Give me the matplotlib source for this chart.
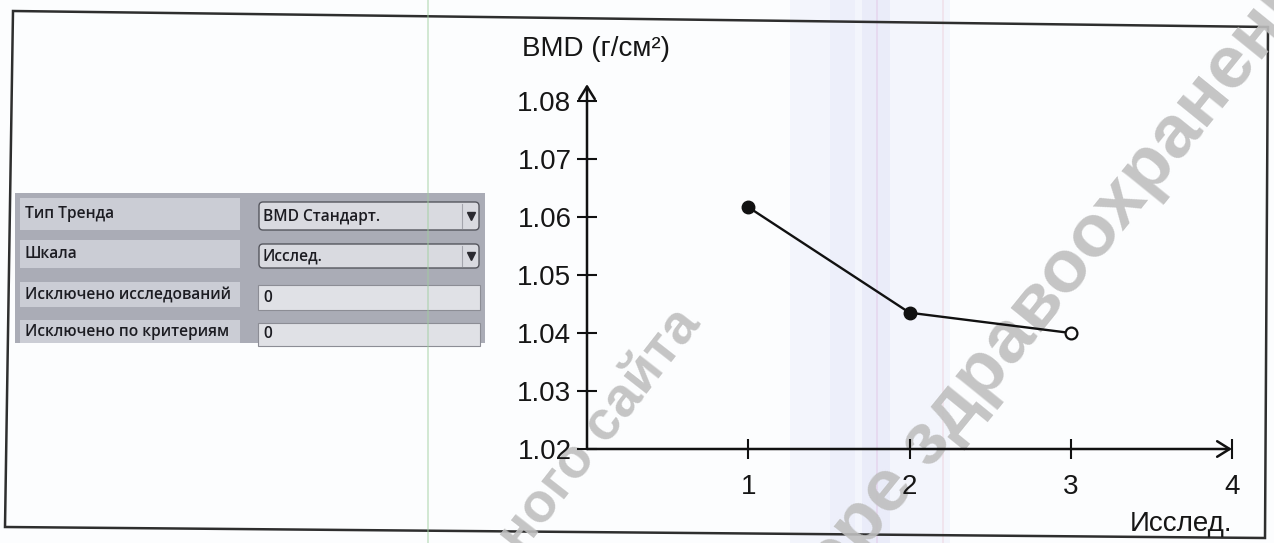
import matplotlib.pyplot as plt
from matplotlib.patches import FancyBboxPatch, Rectangle, Polygon
from matplotlib.ticker import FormatStrFormatter

# BMD trend over studies
studies = [1, 2, 3]
bmd = [1.0617, 1.0435, 1.040]
x_ticks = [1, 2, 3, 4]
y_ticks = [1.02, 1.03, 1.04, 1.05, 1.06, 1.07, 1.08]

# settings panel
panel_labels = ["Тип Тренда", "Шкала", "Исключено исследований", "Исключено по критериям"]
panel_values = ["BMD Стандарт.", "Исслед.", "0", "0"]
panel_dropdown = [True, True, False, False]

W, H = 1274, 543
fig = plt.figure(figsize=(W / 100, H / 100), dpi=100)
fig.patch.set_facecolor("#fcfdfe")

# background layer in pixel units: frame, panel, scan streaks, watermark
bg = fig.add_axes([0, 0, 1, 1], zorder=0)
bg.set_xlim(0, W)
bg.set_ylim(H, 0)
bg.axis("off")

for x0, w, c, a in [(790, 160, "#eef1fb", 0.6), (830, 25, "#e9ecfa", 0.6),
                    (862, 28, "#e4e6f8", 0.6), (876, 2, "#e6d6ee", 0.8),
                    (942, 2, "#f0dde8", 0.7)]:
    bg.add_patch(Rectangle((x0, 0), w, H, color=c, alpha=a, lw=0, zorder=0))
bg.add_patch(Rectangle((427, 0), 1.5, H, color="#9fcf9f", alpha=0.45, lw=0, zorder=6))

bg.add_patch(Polygon([(13, 11), (1268, 27), (1265, 538), (5, 527)], closed=True,
                     fill=False, ec="#2e2e2e", lw=1.8, zorder=1))

wm = dict(color="#bfbfbf", fontweight="bold", family="Liberation Sans",
          rotation_mode="anchor", zorder=2, alpha=0.9, ha="right", va="baseline")
bg.text(702, 324, "официального сайта", fontsize=40, rotation=52, **wm)
bg.text(1345, -42, "в сфере здравоохранения", fontsize=54, rotation=51, **wm)

# panel
bg.add_patch(Rectangle((15, 193), 470, 150, color="#aaacb6", lw=0, zorder=3))
rows = [(198, 32), (240, 28), (282, 25), (320, 23)]
for (y0, h), label, value, dd in zip(rows, panel_labels, panel_values, panel_dropdown):
    bg.add_patch(Rectangle((20, y0), 220, h, color="#cbcdd5", lw=0, zorder=4))
    bg.text(25, y0 + h / 2, label, ha="left", va="center", fontsize=11.2,
            family="Open Sans", fontweight="semibold", color="#1c1c22", zorder=5)
    if dd:
        bg.add_patch(FancyBboxPatch((259, y0 + 4), 220, h - 4, boxstyle="round,pad=0,rounding_size=4",
                                    fc="#d9dae0", ec="#55565e", lw=1, zorder=4))
        bg.plot([462, 462], [y0 + 6, y0 + h - 2], color="#a4a5ad", lw=0.8, zorder=5)
        bg.plot([470.5], [y0 + 2 + h / 2], marker="v", ms=6, color="#2a2a30", zorder=5)
    else:
        bg.add_patch(Rectangle((258, y0 + 3), 222, h, fc="#e0e1e6", ec="#8c8d95", lw=0.8, zorder=4))
    bg.text(263, y0 + 3 + h / 2, value, ha="left", va="center", fontsize=11.2,
            family="Open Sans", fontweight="semibold", color="#1c1c22", zorder=5)

# chart
ax = fig.add_axes([587 / W, 1 - 449 / H, 645 / W, 348 / H], zorder=5)
ax.patch.set_alpha(0)
ax.set_xlim(0, 4)
ax.set_ylim(1.02, 1.08)
for s in ax.spines.values():
    s.set_visible(False)

arrow = dict(arrowstyle="->,head_length=0.45,head_width=0.28", lw=1.8, color="#111111",
             shrinkA=0, shrinkB=0, mutation_scale=20)
ax.annotate("", xy=(4, 1.02), xytext=(0, 1.02), arrowprops=arrow, annotation_clip=False)
ax.annotate("", xy=(0, 1.0829), xytext=(0, 1.02), arrowprops=arrow, annotation_clip=False)

ax.set_xticks(x_ticks)
ax.set_yticks(y_ticks)
ax.yaxis.set_major_formatter(FormatStrFormatter("%.2f"))
ax.tick_params(direction="inout", length=14.5, width=1.5, color="#111111",
               labelsize=20, labelcolor="#161616")
ax.tick_params(axis="x", pad=11)
ax.tick_params(axis="y", pad=4)
for lbl in ax.get_xticklabels() + ax.get_yticklabels():
    lbl.set_family("Liberation Sans")

ax.set_xlabel("Исслед.", loc="right", fontsize=20, family="Liberation Sans",
              color="#161616", labelpad=8)
ax.text(-0.101, 1.128, "BMD (г/см²)", transform=ax.transAxes, ha="left", va="baseline",
        fontsize=20, family="Liberation Sans", color="#161616")

ax.plot(studies, bmd, color="#111111", lw=1.7, zorder=3, clip_on=False)
ax.plot(studies[:-1], bmd[:-1], "o", ms=9, color="#111111", zorder=4, clip_on=False)
ax.plot(studies[-1:], bmd[-1:], "o", ms=8.5, mfc="white", mec="#111111", mew=1.6,
        zorder=4, clip_on=False)

fig.savefig("out.png", dpi=100, facecolor=fig.get_facecolor())
